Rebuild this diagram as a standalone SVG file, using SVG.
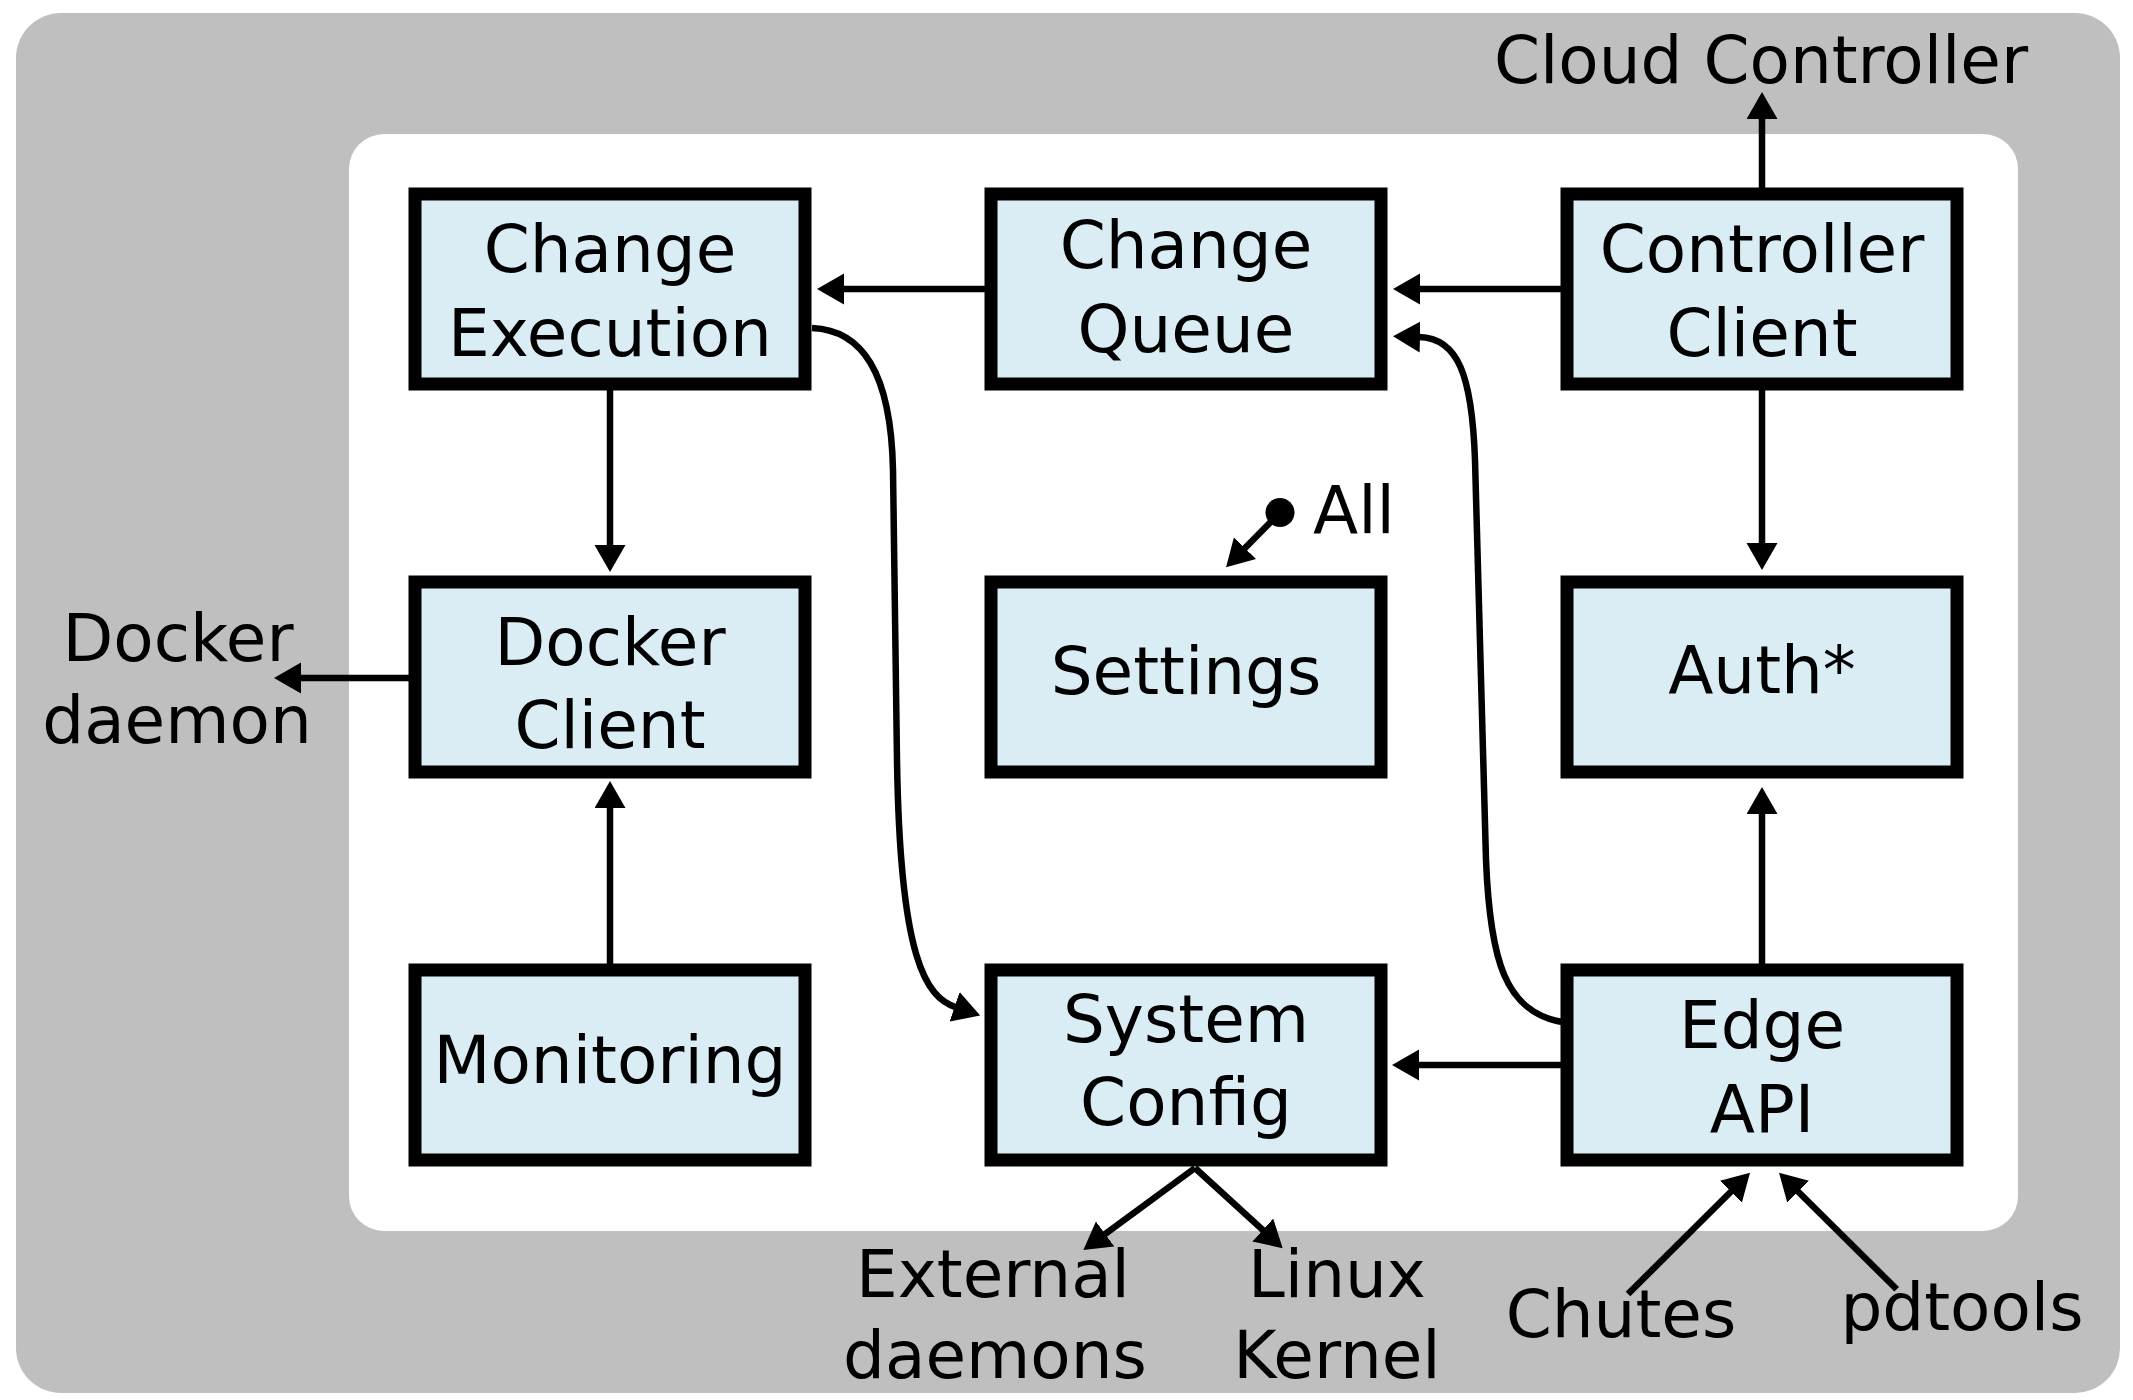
<svg xmlns="http://www.w3.org/2000/svg" width="2133" height="1400" viewBox="0 0 2133 1400">
<defs>
<style>
text{font-family:"DejaVu Sans","Liberation Sans",sans-serif;font-size:66px;fill:#000;text-anchor:middle}
.box{fill:#daedf4;stroke:#000;stroke-width:13}
.c{fill:none;stroke:#000;stroke-width:6.5}
</style>
<marker id="ah" markerUnits="userSpaceOnUse" markerWidth="28" markerHeight="32" viewBox="0 0 28 32" refX="1" refY="15.5" orient="auto">
<path d="M0,0 L27,15.5 L0,31 Z" fill="#000"/>
</marker>
</defs>
<rect x="16" y="13" width="2104" height="1380" rx="45" ry="45" fill="#bfbfbf"/>
<rect x="349" y="134" width="1669" height="1097" rx="35" ry="35" fill="#fff"/>

<g id="connectors">
<path class="c" marker-end="url(#ah)" d="M1762,188 V118"/>
<path class="c" marker-end="url(#ah)" d="M985,289 H843"/>
<path class="c" marker-end="url(#ah)" d="M1562,289 H1419"/>
<path class="c" marker-end="url(#ah)" d="M610,390 V546"/>
<path class="c" marker-end="url(#ah)" d="M1762,390 V544"/>
<path class="c" marker-end="url(#ah)" d="M1762,964 V813"/>
<path class="c" marker-end="url(#ah)" d="M610,964 V807"/>
<path class="c" marker-end="url(#ah)" d="M409,678 H300"/>
<path class="c" marker-end="url(#ah)" d="M1562,1065 H1418"/>
<circle cx="1280" cy="512.5" r="14.5" fill="#000"/>
<path class="c" marker-end="url(#ah)" d="M1280,512.5 L1244.3,548.8"/>
<path class="c" marker-end="url(#ah)" d="M1195,1168 L1104.3,1234.6"/>
<path class="c" marker-end="url(#ah)" d="M1195,1168 L1263.5,1230.7"/>
<path class="c" marker-end="url(#ah)" d="M1628,1294 L1731.6,1191"/>
<path class="c" marker-end="url(#ah)" d="M1896.7,1289.3 L1797.5,1191"/>
<path class="c" marker-end="url(#ah)" d="M812,328 C862,330 891,372 893,470 L897,760 C900,960 926,997 955.6,1007.1"/>
<path class="c" marker-end="url(#ah)" d="M1562,1022 C1505,1012 1490,960 1486,860 L1475,460 C1472,375 1458,338 1419,337"/>
</g>

<g id="change-execution">
<rect class="box" x="415" y="194" width="390" height="190"/>
<text x="610" y="272">Change</text>
<text x="610" y="356">Execution</text>
</g>
<g id="change-queue">
<rect class="box" x="991" y="194" width="390" height="190"/>
<text x="1186" y="268">Change</text>
<text x="1186" y="352">Queue</text>
</g>
<g id="controller-client">
<rect class="box" x="1567" y="194" width="390" height="190"/>
<text x="1762" y="272">Controller</text>
<text x="1762" y="356">Client</text>
</g>
<g id="docker-client">
<rect class="box" x="415" y="582" width="390" height="190"/>
<text x="610" y="665">Docker</text>
<text x="610" y="748">Client</text>
</g>
<g id="settings">
<rect class="box" x="991" y="582" width="390" height="190"/>
<text x="1186" y="694">Settings</text>
</g>
<g id="auth">
<rect class="box" x="1567" y="582" width="390" height="190"/>
<text x="1762" y="693">Auth*</text>
</g>
<g id="monitoring">
<rect class="box" x="415" y="970" width="390" height="190"/>
<text x="610" y="1083">Monitoring</text>
</g>
<g id="system-config">
<rect class="box" x="991" y="970" width="390" height="190"/>
<text x="1186" y="1042">System</text>
<text x="1186" y="1125">Config</text>
</g>
<g id="edge-api">
<rect class="box" x="1567" y="970" width="390" height="190"/>
<text x="1762" y="1048">Edge</text>
<text x="1762" y="1132">API</text>
</g>

<g id="labels">
<text x="1761" y="83">Cloud Controller</text>
<text x="178" y="661">Docker</text>
<text x="177" y="743">daemon</text>
<text x="1313" y="533" style="text-anchor:start">All</text>
<text x="993" y="1297">External</text>
<text x="995" y="1378">daemons</text>
<text x="1337" y="1297">Linux</text>
<text x="1337" y="1378">Kernel</text>
<text x="1621" y="1337">Chutes</text>
<text x="1962" y="1330">pdtools</text>
</g>
</svg>
